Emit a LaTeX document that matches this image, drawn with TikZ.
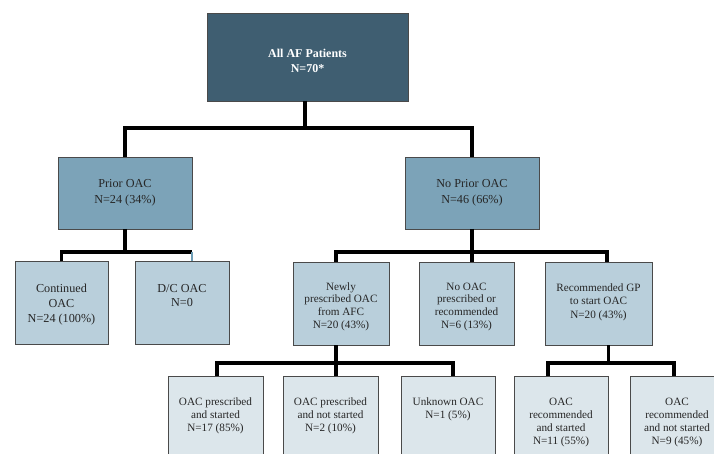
\documentclass[tikz,border=0pt]{standalone}
\usepackage{fontspec}
\setmainfont{Liberation Serif}
\definecolor{c0}{HTML}{3F5E71}
\definecolor{c1}{HTML}{7CA3B8}
\definecolor{c2}{HTML}{B9CFDB}
\definecolor{c3}{HTML}{DCE6EB}
\definecolor{bd}{HTML}{4A4A4A}
\definecolor{tx}{HTML}{262626}
\definecolor{thinb}{HTML}{6E9DB5}
\newcommand{\btext}[6]{\parbox[c][#2][t]{#1}{\centering\fontsize{#3}{#4}\selectfont\rule{0pt}{#5}#6}}
\begin{document}
\begin{tikzpicture}[x=1pt,y=-1pt,
  boxbase/.style={draw=bd, line width=0.8pt, inner sep=0pt, outer sep=0pt, text=tx},
  lvlzero/.style={boxbase, fill=c0, minimum width=201pt, minimum height=88pt},
  lvlone/.style={boxbase, fill=c1, minimum width=134pt, minimum height=72pt, align=center, font=\fontsize{12.2}{16}\selectfont},
  lvltwo/.style={boxbase, fill=c2},
  lvlthree/.style={boxbase, fill=c3},
  toptext/.style={text=white, align=center, font=\bfseries\fontsize{12}{15}\selectfont},
  conn/.style={line width=3.2pt, black, line join=miter},
  thinconn/.style={line width=1.2pt, thinb},
]
\useasboundingbox (0,0) rectangle (714,454);
\clip (0,0) rectangle (714,454);
\fill[white] (0,0) rectangle (714,454);

% level 0
\node[lvlzero] (all) at (307.5,57) {};
\node[toptext] (allT) at (307.5,60.5) {All AF Patients\\N=70*};

% level 1
\node[lvlone] (prior) at (125,193) {Prior OAC\\N=24 (34\%)};
\node[lvlone] (nop) at (472,193) {No Prior OAC\\N=46 (66\%)};

% level 2
\node[lvltwo] (cont) at (61.5,302.5) {\btext{93pt}{83pt}{12.2}{15}{31pt}{Continued\\OAC\\N=24 (100\%)}};
\node[lvltwo] (dc) at (182,302.5) {\btext{94pt}{83pt}{12.2}{14}{31pt}{D/C OAC\\N=0}};
\node[lvltwo] (newly) at (341,303.5) {\btext{96pt}{83pt}{11.2}{12.7}{28pt}{Newly\\prescribed OAC\\from AFC\\N=20 (43\%)}};
\node[lvltwo] (nooac) at (466.5,303.5) {\btext{95pt}{83pt}{11.2}{12.7}{28pt}{No OAC\\prescribed or\\recommended\\N=6 (13\%)}};
\node[lvltwo] (recgp) at (598.5,303.5) {\btext{107pt}{83pt}{11.2}{13.5}{29pt}{Recommended GP\\to start OAC\\N=20 (43\%)}};

% level 3
\node[lvlthree] (ps) at (215.5,426) {\btext{95pt}{100pt}{11.2}{13}{29pt}{OAC prescribed\\and started\\N=17 (85\%)}};
\node[lvlthree] (pns) at (330.5,426) {\btext{95pt}{100pt}{11.2}{13}{29pt}{OAC prescribed\\and not started\\N=2 (10\%)}};
\node[lvlthree] (unk) at (448,426) {\btext{94pt}{100pt}{11.2}{13}{29pt}{Unknown OAC\\N=1 (5\%)}};
\node[lvlthree] (rs) at (561,426) {\btext{94pt}{100pt}{11.2}{13}{29pt}{OAC\\recommended\\and started\\N=11 (55\%)}};
\node[lvlthree] (rns) at (677,426) {\btext{94pt}{100pt}{11.2}{13}{29pt}{OAC\\recommended\\and not started\\N=9 (45\%)}};

% bar levels and connector ends
\coordinate (ya) at (0,128);
\coordinate (yb) at (0,252);
\coordinate (yc) at (0,363);
\coordinate (allout) at ([xshift=-2.5pt]all.south);
\coordinate (dcin) at ([xshift=10pt]dc.north);
\coordinate (newin) at ([xshift=-5pt]newly.north);
\coordinate (newout) at ([xshift=-5pt]newly.south);
\coordinate (nooin) at ([xshift=5.5pt]nooac.north);
\coordinate (recin) at ([xshift=8.5pt]recgp.north);
\coordinate (recout) at ([xshift=10pt]recgp.south);
\coordinate (psin) at ([xshift=1.5pt]ps.north);
\coordinate (pnsin) at ([xshift=5.5pt]pns.north);
\coordinate (unkin) at ([xshift=5pt]unk.north);
\coordinate (rsin) at ([xshift=-13pt]rs.north);
\coordinate (rnsin) at ([xshift=-3pt]rns.north);

% connectors
\draw[conn] (allout) -- (allout |- ya);
\draw[conn] (prior.north) |- (nop.north |- ya) -- (nop.north);
\draw[conn] (prior.south) -- (prior.south |- yb);
\draw[conn] (cont.north) |- (dcin |- yb);
\draw[thinconn] (dcin |- yb) -- (dcin);
\draw[conn] (nop.south) -- (nop.south |- yb);
\draw[conn] (newin) |- (recin |- yb) -- (recin);
\draw[conn] (nooin) -- (nooin |- yb);
\draw[conn] (newout) -- (newout |- yc);
\draw[conn] (psin) |- (unkin |- yc) -- (unkin);
\draw[conn] (pnsin) -- (pnsin |- yc);
\draw[conn] (recout) -- (recout |- yc);
\draw[conn] (rsin) |- (rnsin |- yc) -- (rnsin);
\end{tikzpicture}
\end{document}
